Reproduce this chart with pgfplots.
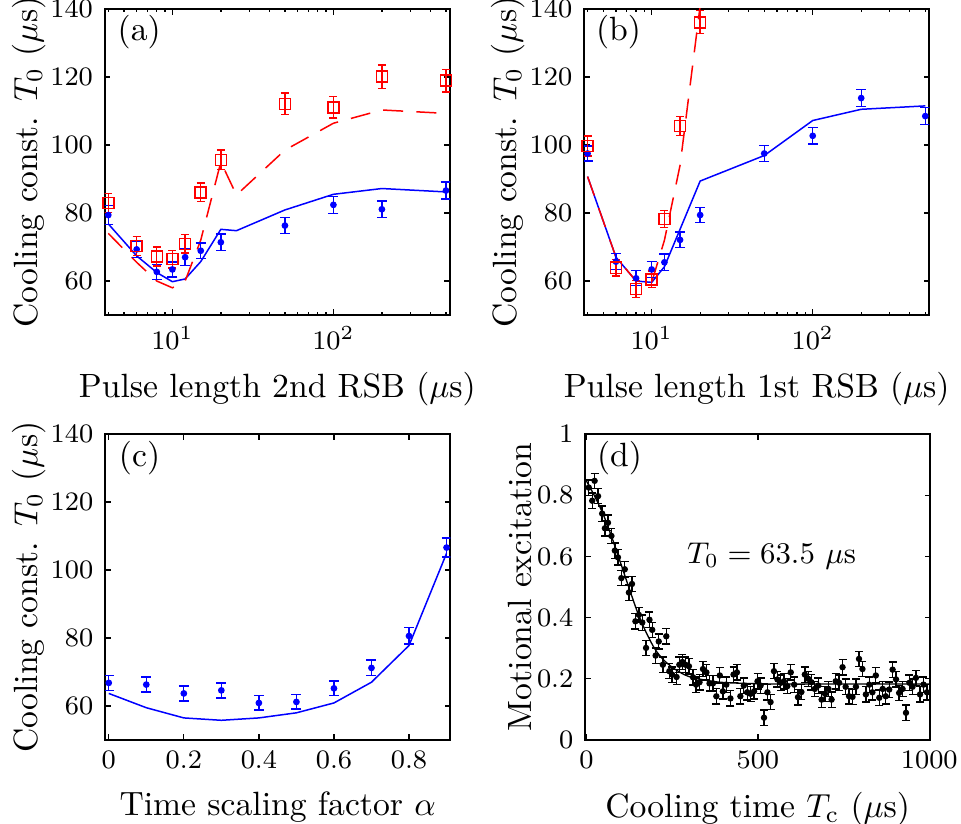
\documentclass[border=0pt]{standalone}
\usepackage{pgfplots}
\pgfplotsset{compat=1.18}

% panel (a): 2nd RSB pulse length
\pgfplotstableread{
x   y     e
4   79.4  2.8
6   69.3  2.3
8   62.7  2.2
10  63.4  2.2
12  67.0  2.4
15  68.9  2.3
20  71.4  2.4
50  76.3  2.3
100 82.4  2.5
200 81.1  2.4
500 86.6  2.5
}\dataAblue
\pgfplotstableread{
x   y     e
4   83.0  2.8
6   70.3  2.7
8   67.2  2.8
10  66.4  2.6
12  70.9  2.7
15  86.1  2.7
20  95.6  2.9
50  112.1 3.2
100 111.1 3.2
200 120.1 3.4
500 118.9 3.3
}\dataAred
% panel (b): 1st RSB pulse length
\pgfplotstableread{
x   y     e
4   97.5  2.2
6   65.7  2.3
8   60.8  2.2
10  63.4  2.3
12  65.5  2.4
15  72.1  2.3
20  79.4  2.2
50  97.5  2.3
100 102.7 2.4
200 113.8 2.5
500 108.5 2.5
}\dataBblue
\pgfplotstableread{
x   y     e
4   99.7  2.9
6   63.9  2.4
8   57.6  2.5
10  60.5  2.4
12  78.2  2.5
15  105.6 2.8
20  136.1 3.4
}\dataBred
% panel (c): time scaling factor
\pgfplotstableread{
x    y     e
0.0  66.8  2.2
0.1  66.3  2.2
0.2  63.7  2.2
0.3  64.6  2.2
0.4  60.9  2.1
0.5  61.2  2.1
0.6  65.2  2.2
0.7  71.2  2.3
0.8  80.6  2.4
0.9  106.6 2.8
}\dataC
% panel (d): cooling curve
\pgfplotstableread{
x    y
7    0.825
17   0.782
24   0.847
34   0.797
46   0.740
54   0.692
63   0.710
73   0.667
83   0.619
92   0.597
102  0.529
112  0.558
124  0.482
133  0.510
143  0.388
153  0.409
163  0.384
174  0.301
184  0.393
192  0.360
202  0.276
211  0.322
223  0.246
233  0.339
242  0.225
250  0.214
263  0.206
271  0.246
280  0.255
289  0.246
299  0.241
311  0.205
320  0.181
330  0.189
340  0.232
350  0.221
359  0.185
369  0.185
379  0.143
389  0.211
398  0.159
408  0.181
420  0.136
429  0.214
439  0.221
449  0.143
459  0.178
469  0.156
479  0.151
489  0.159
499  0.192
508  0.178
518  0.073
528  0.156
537  0.124
547  0.225
557  0.198
567  0.187
576  0.192
586  0.176
596  0.221
606  0.181
617  0.140
627  0.157
637  0.214
647  0.200
656  0.189
666  0.167
676  0.178
686  0.132
696  0.151
706  0.167
715  0.132
727  0.192
737  0.187
747  0.238
756  0.174
766  0.143
776  0.141
786  0.174
795  0.265
805  0.232
815  0.149
825  0.181
834  0.156
844  0.211
854  0.138
864  0.167
873  0.143
883  0.165
893  0.230
903  0.198
912  0.154
922  0.167
932  0.089
942  0.187
951  0.174
961  0.203
973  0.149
983  0.181
993  0.156
}\dataD

\pgfplotsset{
  mypanel/.style={
    scale only axis, width=103.6pt, height=91.8pt,
    anchor=south west,
    tick align=inside, tick pos=both,
    major tick length=1.7pt, minor tick length=1pt,
    axis line style={line width=0.6pt},
    every tick/.style={black, line width=0.4pt},
    tick label style={font=\fontsize{8.1}{9}\selectfont},
    label style={font=\fontsize{10.1}{12}\selectfont},
    ylabel shift=-5.4pt,
    /pgf/number format/1000 sep={},
  },
  mycool/.style={
    mypanel, ymin=50, ymax=140, ytick={60,80,100,120,140},
    ylabel={Cooling const. $T_0$ ($\mu$s)},
  },
  bluepts/.style={blue, only marks, mark=*, mark size=0.8pt,
    error bars/.cd, y dir=both, y explicit,
    error bar style={line width=0.4pt, blue},
    error mark options={rotate=90, mark size=1.5pt, line width=0.4pt, blue}},
  redpts/.style={red, only marks, mark=square, mark size=1.65pt,
    mark options={line width=0.45pt},
    error bars/.cd, y dir=both, y explicit,
    error bar style={line width=0.4pt, red},
    error mark options={rotate=90, mark size=1.2pt, line width=0.4pt, red}},
  blackpts/.style={black, only marks, mark=*, mark size=0.75pt,
    error bars/.cd, y dir=both, y fixed=0.025,
    error bar style={line width=0.4pt, black},
    error mark options={rotate=90, mark size=1.2pt, line width=0.4pt, black}},
  bluefit/.style={blue, line width=0.45pt},
  redfit/.style={red, line width=0.45pt, dash pattern=on 6pt off 4pt},
}
\tikzset{plabel/.style={font=\fontsize{10.1}{12}\selectfont}}

\begin{document}
\begin{tikzpicture}
\useasboundingbox (0,0) rectangle (288.3pt,-246.9pt);

% (a)
\begin{axis}[xmode=log, mycool, xmin=3.8, xmax=530, at={(31.41pt,-94.5pt)},
  xlabel={Pulse length 2nd RSB ($\mu$s)}]
\addplot[bluefit] coordinates {(4,76.8)(6,67.4)(8,62.5)(10,59.8)(12,60.6)(15,65.7)(20,75.2)(25,74.8)(50,80.9)(100,85.5)(200,87.2)(500,86.2)};
\addplot[redfit] coordinates {(4,74.0)(6,65.5)(8,60.0)(10,58.0)(12,60.0)(15,72.0)(20,95.0)(25,85.3)(50,98.5)(100,106.4)(200,110.3)(500,109.3)};
\addplot[bluepts] table[x=x, y=y, y error=e] {\dataAblue};
\addplot[redpts] table[x=x, y=y, y error=e] {\dataAred};
\node[plabel] at (rel axis cs:0.1,0.925) {(a)};
\end{axis}

% (b)
\begin{axis}[xmode=log, mycool, xmin=3.8, xmax=530, at={(175.2pt,-94.5pt)},
  xlabel={Pulse length 1st RSB ($\mu$s)}]
\addplot[bluefit] coordinates {(4,90.7)(6,67.0)(8,60.0)(10,59.6)(12,64.2)(20,89.4)(50,96.9)(100,107.2)(200,110.5)(500,111.5)};
\addplot[redfit] coordinates {(4,90.7)(6,67.0)(8,60.0)(10,59.6)(12,72.0)(15,94.0)(20,141.0)};
\addplot[bluepts] table[x=x, y=y, y error=e] {\dataBblue};
\addplot[redpts] table[x=x, y=y, y error=e] {\dataBred};
\node[plabel] at (rel axis cs:0.1,0.925) {(b)};
\end{axis}

% (c)
\begin{axis}[mycool, at={(31.5pt,-222pt)},
  xmin=-0.01, xmax=0.91, xtick={0,0.2,0.4,0.6,0.8},
  xlabel={Time scaling factor $\alpha$}]
\addplot[bluefit] coordinates {(0,63.7)(0.1,59.5)(0.2,56.5)(0.3,55.8)(0.4,56.5)(0.5,58.0)(0.6,60.9)(0.7,67.0)(0.8,77.8)(0.9,104.9)};
\addplot[bluepts] table[x=x, y=y, y error=e] {\dataC};
\node[plabel] at (rel axis cs:0.1,0.92) {(c)};
\end{axis}

% (d)
\begin{axis}[mypanel, at={(175.5pt,-222pt)},
  xmin=-4, xmax=1003, xtick={0,500,1000},
  ymin=0, ymax=1, ytick={0,0.2,0.4,0.6,0.8,1},
  xlabel={Cooling time $T_\mathrm{c}$ ($\mu$s)},
  ylabel={Motional excitation}]
\addplot[black, line width=0.4pt, smooth] coordinates {(-4,0.855)(25,0.795)(50,0.735)(75,0.66)(100,0.578)(125,0.495)(150,0.415)(175,0.35)(200,0.297)(225,0.262)(250,0.238)(275,0.22)(300,0.207)(350,0.195)(400,0.188)(500,0.184)(600,0.183)(1003,0.183)};
\addplot[blackpts] table[x=x, y=y] {\dataD};
\node[plabel] at (rel axis cs:0.1,0.92) {(d)};
\node[font=\fontsize{9}{11}\selectfont] at (axis cs:540,0.6) {$T_0 = 63.5\ \mu$s};
\end{axis}
\end{tikzpicture}
\end{document}
